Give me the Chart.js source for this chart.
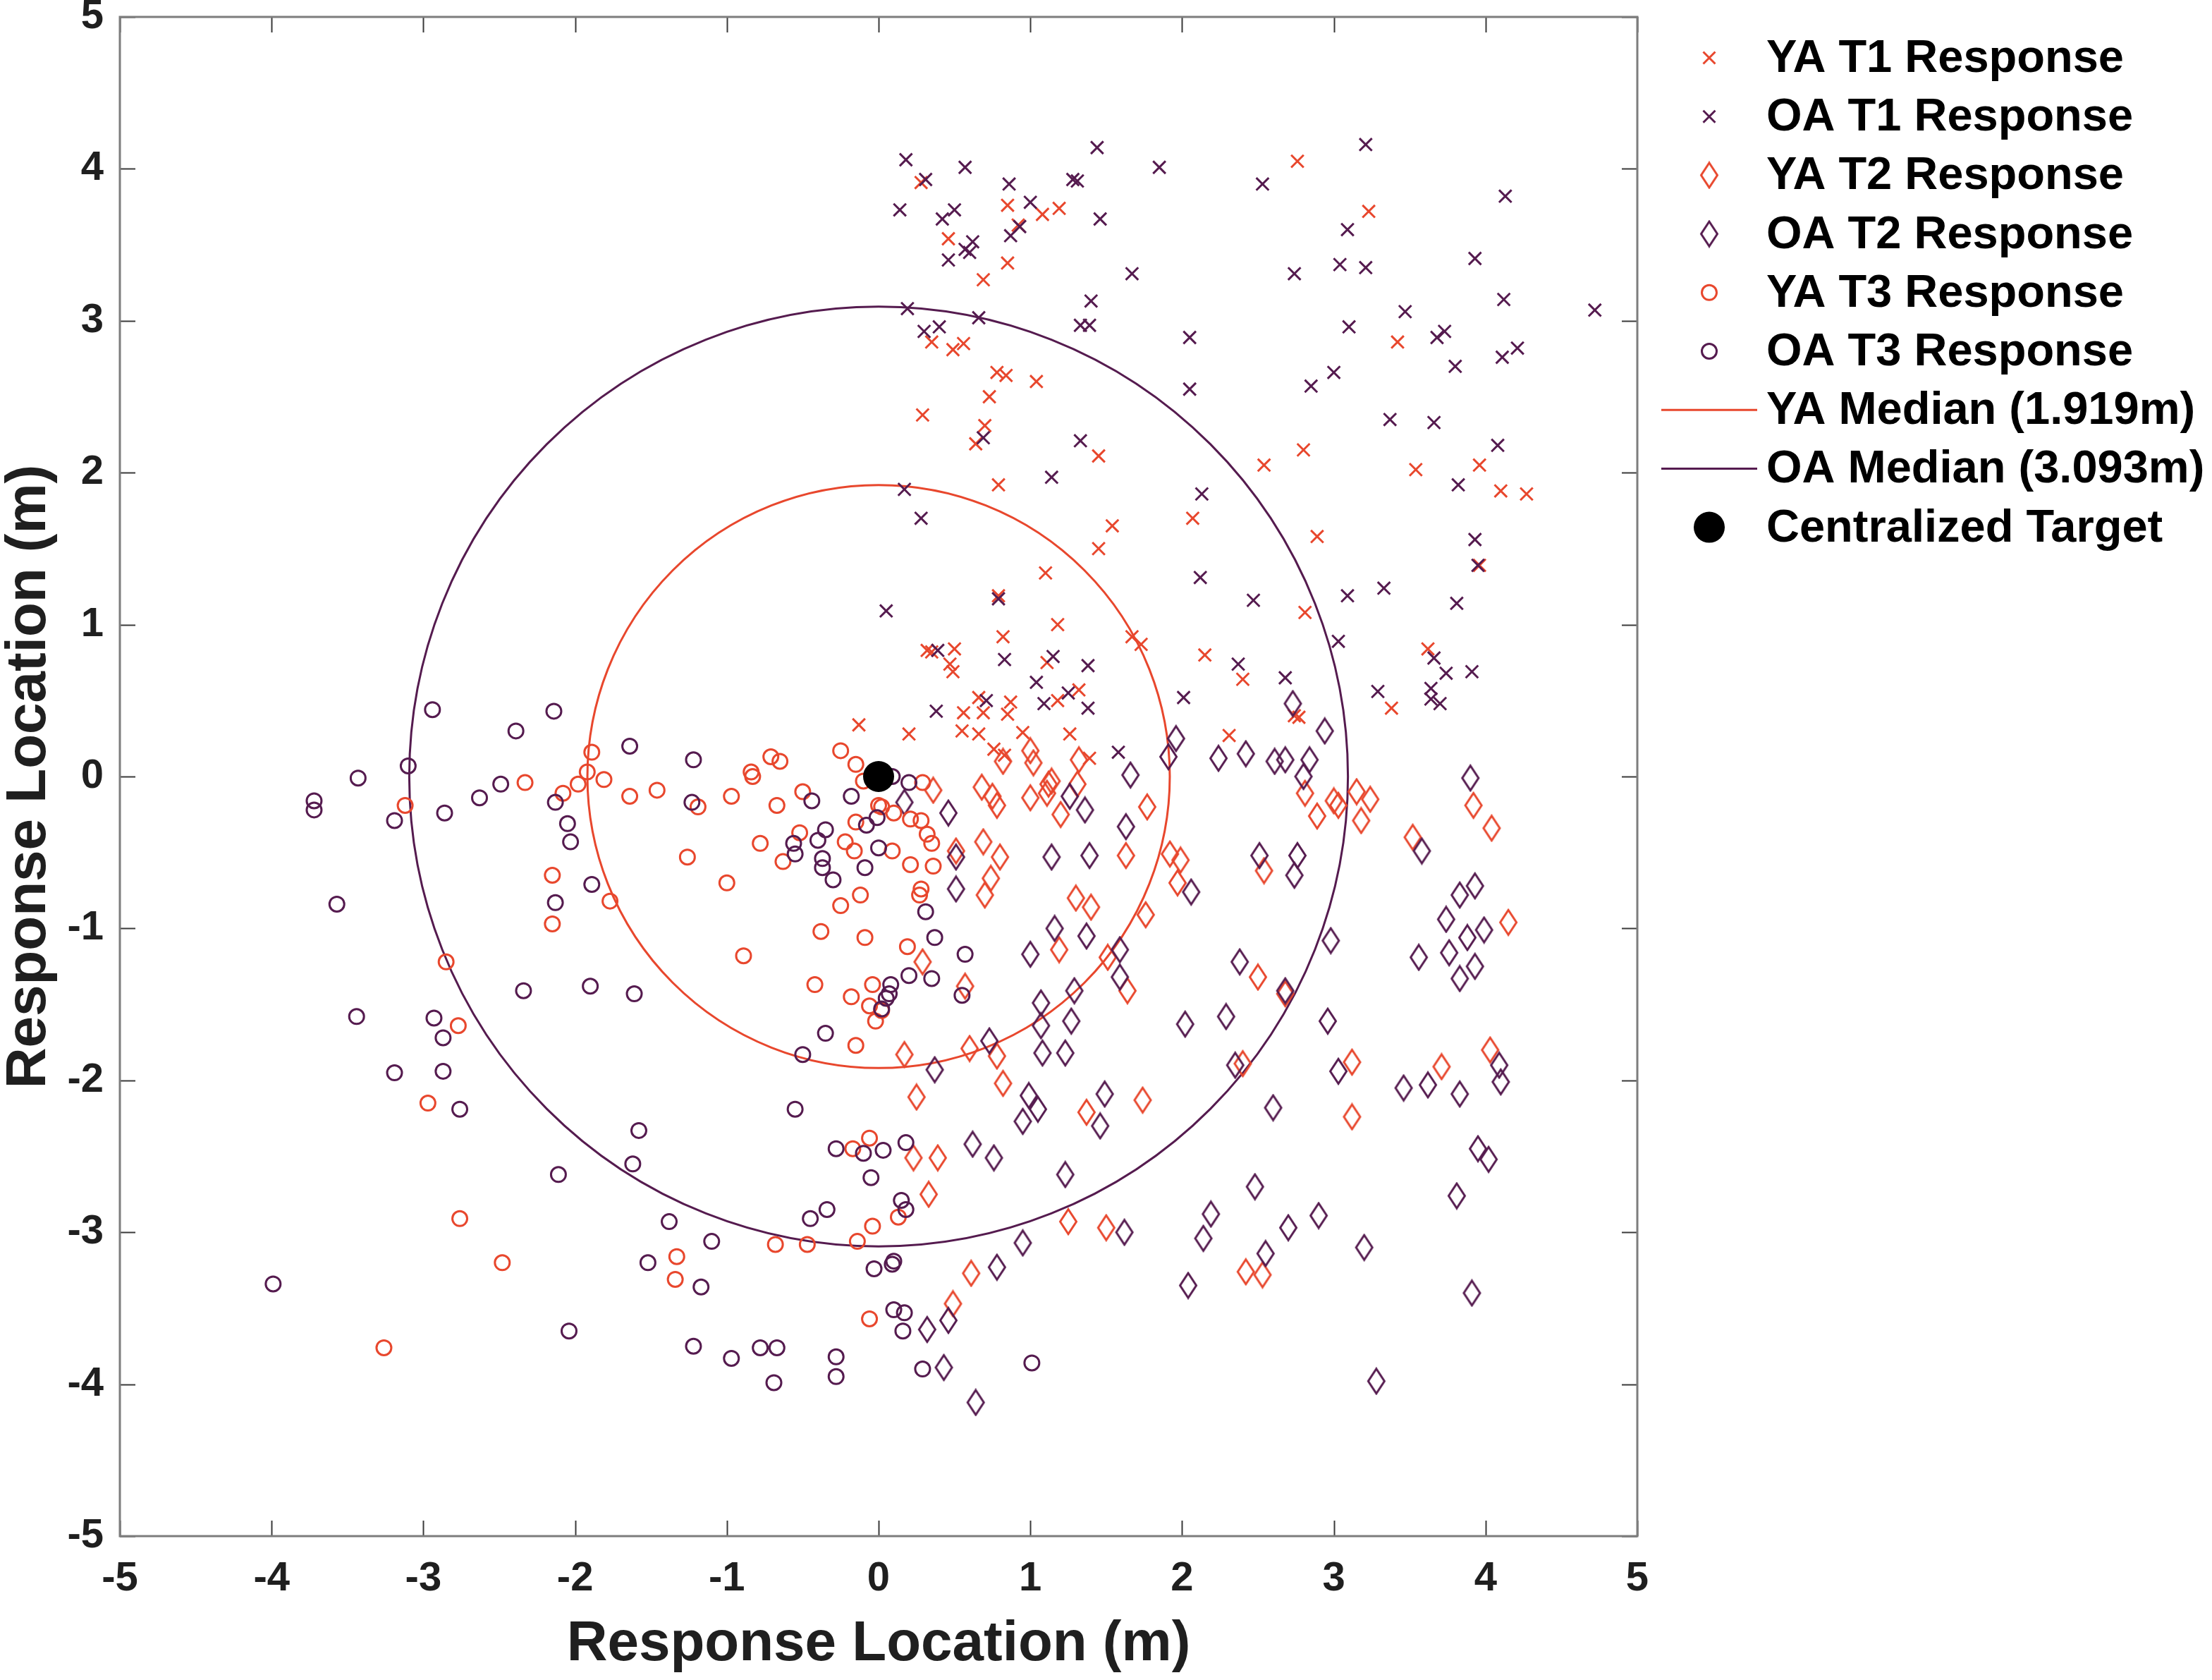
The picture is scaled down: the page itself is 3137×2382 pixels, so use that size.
<!DOCTYPE html>
<html>
<head>
<meta charset="utf-8">
<script src="https://cdn.jsdelivr.net/npm/chart.js@4.4.1/dist/chart.umd.min.js"></script>
<style>
html,body{margin:0;padding:0;background:#ffffff;}
#wrap{width:3137px;height:2382px;position:relative;}
canvas{display:block;}
</style>
</head>
<body>
<div id="wrap"><canvas id="c" width="3137" height="2382"></canvas></div>
<script>
// ---------------- DATA ----------------
const xTickValues = [-5,-4,-3,-2,-1,0,1,2,3,4,5];
const yTickValues = [-5,-4,-3,-2,-1,0,1,2,3,4,5];
const xAxisTitle = 'Response Location (m)';
const yAxisTitle = 'Response Location (m)';
const seriesLabels = ['YA T1 Response','OA T1 Response','YA T2 Response','OA T2 Response','YA T3 Response','OA T3 Response','YA Median (1.919m)','OA Median (3.093m)','Centralized Target'];
const medianRadii = [1.919, 3.093];   // YA, OA  (circles centred on the target)
const targetPoint = [[0,0]];

const yaT1 = [[0.28,3.91],[0.85,3.76],[1.08,3.70],[1.19,3.74],[0.92,3.63],[0.46,3.54],[0.85,3.38],[0.69,3.27],[2.76,4.05],[3.23,3.72],
[0.35,2.86],[0.49,2.81],[0.56,2.85],[0.78,2.66],[0.84,2.64],[1.04,2.60],[0.73,2.50],[0.29,2.38],[0.70,2.31],[0.64,2.19],[1.45,2.11],[3.42,2.86],
[0.79,1.92],[1.54,1.65],[1.45,1.50],[1.10,1.34],[2.07,1.70],[2.89,1.58],[2.54,2.05],[2.80,2.15],[3.54,2.02],[3.96,2.05],[4.10,1.88],[4.27,1.86],
[2.81,1.08],[3.96,1.39],[0.79,1.19],[1.18,1.00],[0.82,0.92],[1.67,0.92],[1.73,0.87],[0.32,0.83],[0.35,0.82],[0.50,0.84],[0.47,0.74],[0.49,0.69],[1.11,0.75],[2.15,0.80],[2.40,0.64],[3.62,0.84],
[0.66,0.52],[0.87,0.49],[1.18,0.50],[1.32,0.57],[0.56,0.42],[0.69,0.42],[0.85,0.41],[-0.13,0.34],[0.20,0.28],[0.55,0.30],[0.66,0.28],[0.95,0.29],[1.26,0.28],[2.31,0.27],[2.74,0.40],[2.77,0.39],[3.38,0.45],
[0.76,0.18],[0.83,0.14],[1.39,0.12]];

const oaT1 = [[0.18,4.06],[0.31,3.93],[0.57,4.01],[0.86,3.90],[1.28,3.93],[1.31,3.92],[1.44,4.14],[1.85,4.01],[2.53,3.90],[3.21,4.16],[4.13,3.82],
[0.14,3.73],[0.42,3.67],[0.50,3.73],[1.00,3.78],[1.46,3.67],[0.93,3.62],[0.87,3.56],[0.62,3.52],[0.57,3.47],[0.60,3.45],[0.46,3.40],[1.67,3.31],[3.09,3.60],[3.04,3.37],[3.21,3.35],[2.74,3.31],[3.93,3.41],
[1.40,3.13],[0.19,3.08],[0.66,3.02],[0.30,2.93],[0.40,2.96],[1.33,2.97],[1.39,2.97],[2.05,2.89],[3.10,2.96],[3.47,3.06],[4.12,3.14],[4.72,3.07],[3.68,2.89],[3.73,2.93],[4.11,2.76],[4.21,2.82],[3.80,2.70],[3.00,2.66],[2.85,2.57],[2.05,2.55],[3.37,2.35],[3.66,2.33],[4.08,2.18],
[0.69,2.23],[1.33,2.21],[1.14,1.97],[3.82,1.92],[0.17,1.89],[2.13,1.86],[0.28,1.70],[3.93,1.56],[3.95,1.39],[2.12,1.31],[3.09,1.19],[3.33,1.24],[3.81,1.14],[0.79,1.17],[2.47,1.16],[0.05,1.09],[3.03,0.89],[0.39,0.83],[0.83,0.77],[1.15,0.79],[1.38,0.73],[2.37,0.74],[2.68,0.65],[3.66,0.78],[3.74,0.68],[3.91,0.69],
[1.04,0.62],[1.09,0.48],[1.25,0.55],[1.38,0.45],[0.38,0.43],[0.71,0.50],[2.01,0.52],[3.29,0.56],[3.64,0.58],[3.64,0.51],[3.70,0.48],[1.58,0.16]];

const yaT2 = [[1.00,0.17],[1.02,0.09],[0.82,0.10],[1.32,0.11],[0.36,-0.09],[0.68,-0.07],[0.75,-0.13],[0.78,-0.19],[1.00,-0.14],[1.12,-0.05],[1.14,-0.03],[1.11,-0.11],[1.31,-0.05],[1.20,-0.25],[1.77,-0.20],[2.81,-0.11],[2.89,-0.26],[3.00,-0.16],[3.03,-0.19],[3.15,-0.10],[3.24,-0.15],[3.18,-0.29],[3.92,-0.19],[4.04,-0.34],[3.52,-0.40],
[0.69,-0.43],[0.51,-0.49],[0.80,-0.53],[1.63,-0.52],[1.92,-0.51],[1.99,-0.55],[2.54,-0.62],[1.97,-0.70],[0.74,-0.67],[0.70,-0.78],[1.30,-0.80],[1.40,-0.86],[1.76,-0.91],[4.15,-0.96],[1.19,-1.14],[1.51,-1.19],[2.50,-1.32],[2.68,-1.43],[1.64,-1.41],[0.57,-1.38],[0.29,-1.22],
[0.17,-1.83],[0.60,-1.79],[0.78,-1.84],[2.40,-1.89],[3.12,-1.88],[3.71,-1.91],[4.03,-1.80],[0.25,-2.11],[0.82,-2.02],[1.37,-2.21],[1.74,-2.13],[3.12,-2.24],[0.23,-2.51],[0.39,-2.51],[0.33,-2.75],[1.25,-2.93],[1.50,-2.97],[0.61,-3.27],[2.42,-3.26],[2.53,-3.28],[0.49,-3.47]];

const oaT2 = [[2.73,0.48],[2.94,0.30],[1.96,0.25],[1.91,0.13],[2.24,0.12],[2.42,0.15],[2.61,0.10],[2.68,0.11],[2.84,0.11],[2.80,0.00],[1.66,0.01],[0.17,-0.17],[0.46,-0.24],[1.26,-0.13],[1.36,-0.22],[1.63,-0.33],[3.90,-0.01],[3.58,-0.49],
[0.51,-0.53],[1.14,-0.53],[1.39,-0.52],[2.51,-0.52],[2.76,-0.52],[2.74,-0.65],[2.06,-0.76],[0.51,-0.74],[3.83,-0.78],[3.93,-0.72],[3.74,-0.94],[3.88,-1.06],[3.99,-1.01],[2.98,-1.08],[1.16,-1.00],[1.37,-1.05],[1.00,-1.17],[1.59,-1.14],[2.38,-1.22],[2.68,-1.41],[3.56,-1.19],[3.76,-1.16],[3.83,-1.33],[3.93,-1.25],[1.59,-1.32],[1.29,-1.41],[1.07,-1.49],[1.07,-1.64],[1.27,-1.61],[2.02,-1.63],[2.29,-1.58],[2.96,-1.61],
[0.73,-1.74],[0.37,-1.93],[1.08,-1.82],[1.23,-1.82],[2.35,-1.90],[3.03,-1.94],[3.46,-2.05],[3.62,-2.03],[3.83,-2.09],[4.09,-1.90],[4.10,-2.01],[0.99,-2.10],[1.05,-2.19],[0.95,-2.27],[1.49,-2.09],[1.46,-2.30],[2.60,-2.18],[0.62,-2.42],[0.76,-2.51],[3.95,-2.45],[4.02,-2.52],
[1.23,-2.62],[2.48,-2.70],[3.81,-2.76],[2.19,-2.88],[2.90,-2.89],[2.70,-2.97],[1.62,-3.00],[2.14,-3.04],[3.20,-3.10],[0.95,-3.07],[2.55,-3.14],[0.78,-3.23],[2.04,-3.35],[3.91,-3.40],[0.46,-3.58],[0.32,-3.64],[0.43,-3.89],[3.28,-3.98],[0.64,-4.12]];

const yaT3 = [[-1.89,0.16],[-1.92,0.03],[-1.81,-0.02],[-1.98,-0.05],[-2.08,-0.11],[-2.33,-0.04],[-3.12,-0.19],[-1.64,-0.13],[-1.46,-0.09],[-1.19,-0.20],[-0.97,-0.13],[-0.84,0.03],[-0.83,0.00],[-0.71,0.13],[-0.65,0.10],[-0.67,-0.19],[-0.50,-0.10],[-0.25,0.17],[-0.15,0.08],[-0.10,-0.03],[0.00,-0.19],[-0.15,-0.30],[-0.52,-0.37],[-0.78,-0.44],[-0.22,-0.43],[-0.16,-0.49],[-0.63,-0.56],[-1.26,-0.53],[-1.00,-0.70],[-2.15,-0.65],[-1.77,-0.82],[-2.15,-0.97],[-0.12,-0.78],[-0.25,-0.85],[-0.38,-1.02],[-0.09,-1.06],[-0.89,-1.18],[-0.42,-1.37],[-0.04,-1.37],[-0.18,-1.45],[-0.06,-1.51],[-0.02,-1.61],[-0.15,-1.77],[-2.85,-1.22],[-2.77,-1.64],[-2.97,-2.15],[-0.06,-2.38],[-0.17,-2.45],
[0.29,-0.04],[0.02,-0.20],[0.10,-0.24],[0.21,-0.28],[0.28,-0.29],[0.32,-0.38],[0.35,-0.44],[0.09,-0.49],[0.21,-0.58],[0.36,-0.59],[0.28,-0.74],[0.27,-0.78],[0.19,-1.12],[0.02,-1.54],
[0.13,-2.90],[-0.04,-2.96],[-0.14,-3.06],[-0.47,-3.08],[-0.68,-3.08],[-2.76,-2.91],[-2.48,-3.20],[-1.33,-3.16],[-1.34,-3.31],[-0.06,-3.57],[-3.26,-3.76]];

const oaT3 = [[-2.94,0.44],[-2.14,0.43],[-2.39,0.30],[-1.64,0.20],[-1.22,0.11],[-3.10,0.07],[-3.43,-0.01],[-2.49,-0.05],[-2.63,-0.14],[-3.72,-0.16],[-3.72,-0.22],[-3.19,-0.29],[-2.86,-0.24],[-2.13,-0.17],[-2.05,-0.31],[-2.03,-0.43],[-1.23,-0.17],[-0.44,-0.16],[-0.18,-0.13],[-0.35,-0.35],[-0.40,-0.42],[-0.56,-0.44],[-0.55,-0.51],[-0.37,-0.54],[-0.37,-0.60],[-0.30,-0.68],[-0.09,-0.60],[-0.08,-0.32],[0.00,-0.47],[-1.89,-0.71],[-2.13,-0.83],[-3.57,-0.84],[-2.34,-1.41],[-1.90,-1.38],[-1.61,-1.43],[-3.44,-1.58],[-2.93,-1.59],[-2.87,-1.72],[-3.19,-1.95],[-2.87,-1.94],[-2.76,-2.19],[-0.35,-1.69],[-0.50,-1.83],[-0.55,-2.19],[-1.58,-2.33],[-0.28,-2.45],[-0.10,-2.48],
[0.09,0.00],[0.20,-0.04],[-0.01,-0.27],[0.31,-0.89],[0.37,-1.06],[0.57,-1.17],[0.20,-1.31],[0.35,-1.33],[0.08,-1.37],[0.07,-1.43],[0.05,-1.46],[0.02,-1.53],[0.55,-1.44],[0.18,-2.41],[0.03,-2.46],
[-1.62,-2.55],[-2.11,-2.62],[-0.05,-2.64],[0.15,-2.79],[0.18,-2.85],[-0.34,-2.85],[-0.45,-2.91],[-1.38,-2.93],[-1.10,-3.06],[-1.52,-3.20],[-1.17,-3.36],[-0.03,-3.24],[0.09,-3.21],[0.10,-3.19],[0.10,-3.51],[0.17,-3.53],[0.16,-3.65],[-3.99,-3.34],[-2.04,-3.65],[-1.22,-3.75],[-0.97,-3.83],[-0.78,-3.76],[-0.67,-3.76],[-0.69,-3.99],[-0.28,-3.82],[-0.28,-3.95],[0.29,-3.90],[1.01,-3.86]];

// ---------------- STYLE ----------------
const RED = '#E8472D';
const PURPLE = '#551B4F';
const FONT = '"Liberation Sans", Arial, Helvetica, sans-serif';
const TEXT = '#1f1f1f';

function makeDiamond(color) {
  const c = document.createElement('canvas');
  c.width = 30; c.height = 40;
  const g = c.getContext('2d');
  g.strokeStyle = color; g.lineWidth = 3; g.lineJoin = 'miter';
  g.beginPath();
  g.moveTo(15, 2.5); g.lineTo(26.5, 20); g.lineTo(15, 37.5); g.lineTo(3.5, 20); g.closePath();
  g.stroke();
  return c;
}
const diamondRed = makeDiamond(RED);
const diamondPurple = makeDiamond(PURPLE);

const toXY = a => a.map(p => ({x: p[0], y: p[1]}));

// ---------------- PLUGINS ----------------
// Median circles: centre = target, radius = median value, mapped through the chart's scales
const medianPlugin = {
  id: 'medianCircles',
  beforeDatasetsDraw(chart) {
    const {ctx, chartArea: a, scales: {x, y}} = chart;
    const cx = x.getPixelForValue(targetPoint[0][0]);
    const cy = y.getPixelForValue(targetPoint[0][1]);
    const colors = [RED, PURPLE];
    ctx.save();
    ctx.beginPath(); ctx.rect(a.left, a.top, a.right - a.left, a.bottom - a.top); ctx.clip();
    medianRadii.forEach((r, i) => {
      const rx = Math.abs(x.getPixelForValue(targetPoint[0][0] + r) - cx);
      const ry = Math.abs(y.getPixelForValue(targetPoint[0][1] + r) - cy);
      ctx.strokeStyle = colors[i];
      ctx.lineWidth = 3;
      ctx.beginPath();
      ctx.ellipse(cx, cy, rx, ry, 0, 0, Math.PI * 2);
      ctx.stroke();
    });
    ctx.restore();
  }
};

const framePlugin = {
  id: 'matlabFrame',
  afterDraw(chart) {
    const {ctx, chartArea: a, scales: {x, y}} = chart;
    const TL = 22;
    ctx.save();
    ctx.strokeStyle = '#3a3a3a';
    ctx.lineWidth = 2;
    ctx.beginPath();
    x.ticks.forEach(t => {
      const px = Math.round(x.getPixelForValue(t.value)) + 0.5;
      ctx.moveTo(px, a.bottom); ctx.lineTo(px, a.bottom - TL);
      ctx.moveTo(px, a.top); ctx.lineTo(px, a.top + TL);
    });
    y.ticks.forEach(t => {
      const py = Math.round(y.getPixelForValue(t.value)) + 0.5;
      ctx.moveTo(a.left, py); ctx.lineTo(a.left + TL, py);
      ctx.moveTo(a.right, py); ctx.lineTo(a.right - TL, py);
    });
    ctx.stroke();
    ctx.strokeStyle = '#7d7d7d';
    ctx.lineWidth = 3;
    ctx.strokeRect(a.left, a.top, a.right - a.left, a.bottom - a.top);
    ctx.restore();
  }
};

const legendPlugin = {
  id: 'matlabLegend',
  afterDraw(chart) {
    const ctx = chart.ctx;
    const a = chart.chartArea;
    const markX = a.right + 102;
    const lineX0 = a.right + 34, lineX1 = a.right + 170;
    const textX = a.right + 183;
    const y0 = 82, dy = 83.2;
    const kinds = ['xr','xp','dr','dp','cr','cp','lr','lp','t'];
    ctx.save();
    ctx.font = 'bold 65px ' + FONT;
    ctx.textBaseline = 'middle';
    ctx.textAlign = 'left';
    kinds.forEach((k, i) => {
      const y = y0 + i * dy;
      const col = k[1] === 'r' ? RED : PURPLE;
      ctx.lineWidth = 3;
      ctx.strokeStyle = col;
      if (k[0] === 'x') {
        const h = 8.5;
        ctx.beginPath();
        ctx.moveTo(markX - h, y - h); ctx.lineTo(markX + h, y + h);
        ctx.moveTo(markX - h, y + h); ctx.lineTo(markX + h, y - h);
        ctx.stroke();
      } else if (k[0] === 'd') {
        const img = k[1] === 'r' ? diamondRed : diamondPurple;
        ctx.drawImage(img, markX - img.width / 2, y - img.height / 2);
      } else if (k[0] === 'c') {
        ctx.beginPath(); ctx.arc(markX, y, 10.5, 0, Math.PI * 2); ctx.stroke();
      } else if (k[0] === 'l') {
        ctx.beginPath(); ctx.moveTo(lineX0, y); ctx.lineTo(lineX1, y); ctx.stroke();
      } else {
        ctx.fillStyle = '#000';
        ctx.beginPath(); ctx.arc(markX, y, 22, 0, Math.PI * 2); ctx.fill();
      }
      ctx.fillStyle = '#000';
      ctx.fillText(seriesLabels[i], textX, y + 2);
    });
    ctx.restore();
  }
};

// ---------------- CHART ----------------
function scatterSet(label, pts, style, color, radius, bw, order) {
  return {
    type: 'scatter', label, data: toXY(pts), order,
    pointStyle: style, pointRadius: radius, pointHoverRadius: radius,
    pointBorderColor: color, pointBackgroundColor: 'rgba(0,0,0,0)', pointBorderWidth: bw,
    showLine: false
  };
}

const datasets = [
  {type: 'scatter', label: seriesLabels[8], data: toXY(targetPoint), order: 0,
   pointStyle: 'circle', pointRadius: 22, pointHoverRadius: 22, pointBackgroundColor: '#000', pointBorderColor: '#000', pointBorderWidth: 0},
  scatterSet(seriesLabels[5], oaT3, 'circle', PURPLE, 10.5, 3, 1),
  scatterSet(seriesLabels[4], yaT3, 'circle', RED, 10.5, 3, 2),
  scatterSet(seriesLabels[3], oaT2, diamondPurple, PURPLE, 12, 3, 3),
  scatterSet(seriesLabels[2], yaT2, diamondRed, RED, 12, 3, 4),
  scatterSet(seriesLabels[1], oaT1, 'crossRot', PURPLE, 12.5, 3, 5),
  scatterSet(seriesLabels[0], yaT1, 'crossRot', RED, 12.5, 3, 6)
];

function axis(ticksArr, title, isX) {
  return {
    type: 'linear',
    min: ticksArr[0], max: ticksArr[ticksArr.length - 1],
    afterBuildTicks: (s) => { s.ticks = ticksArr.map(v => ({value: v})); },
    ticks: {
      font: {family: FONT, size: 58, weight: 'bold'},
      color: TEXT,
      padding: isX ? 26 : 23,
      maxRotation: 0, autoSkip: false,
      callback: (v) => String(v)
    },
    grid: {display: false, drawTicks: false},
    border: {display: false},
    title: {
      display: true, text: title, color: TEXT,
      font: {family: FONT, size: 80, weight: 'bold', lineHeight: 1.0},
      padding: isX ? {top: 0, bottom: 10} : {top: 2, bottom: 0}
    },
    afterFit: (s) => {
      if (isX) { s.height = 204; s.paddingLeft = 0; s.paddingRight = 0; }
      else { s.width = 170; s.paddingTop = 0; s.paddingBottom = 0; }
    }
  };
}

new Chart(document.getElementById('c'), {
  type: 'scatter',
  data: {datasets},
  options: {
    responsive: false,
    devicePixelRatio: 1,
    animation: false,
    events: [],
    layout: {padding: {left: 0, top: 24, right: 815, bottom: 0}},
    scales: {
      x: axis(xTickValues, xAxisTitle, true),
      y: axis(yTickValues, yAxisTitle, false)
    },
    plugins: {legend: {display: false}, tooltip: {enabled: false}}
  },
  plugins: [medianPlugin, framePlugin, legendPlugin]
});
</script>
</body>
</html>
